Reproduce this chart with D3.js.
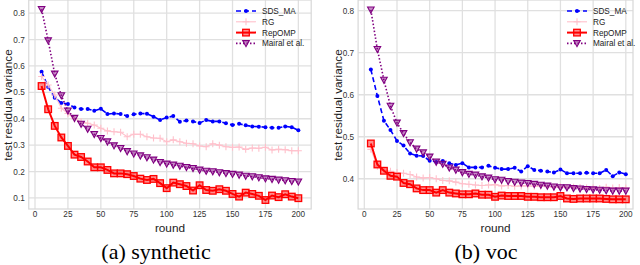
<!DOCTYPE html>
<html>
<head>
<meta charset="utf-8">
<script src="https://cdn.jsdelivr.net/npm/d3@7"></script>
<style>
  body { margin: 0; background: #fff; }
  svg { display: block; }
</style>
</head>
<body>
<script>
const rounds = [5, 10, 15, 20, 25, 30, 35, 40, 45, 50, 55, 60, 65, 70, 75, 80, 85, 90, 95, 100,
  105, 110, 115, 120, 125, 130, 135, 140, 145, 150, 155, 160, 165, 170, 175, 180, 185, 190, 195, 200]

const xTicks = [0, 25, 50, 75, 100, 125, 150, 175, 200]
const synthYTicks = [0.1, 0.2, 0.3, 0.4, 0.5, 0.6, 0.7, 0.8]
const vocYTicks = [0.4, 0.5, 0.6, 0.7, 0.8]
const seriesNames = ['SDS_MA', 'RG', 'RepOMP', 'Mairal et al.']

// synthetic
const synthSDS = [0.578, 0.52, 0.48, 0.46, 0.456, 0.443, 0.437, 0.437, 0.43, 0.438,
  0.418, 0.42, 0.418, 0.41, 0.417, 0.42, 0.419, 0.408, 0.395, 0.405,
  0.41, 0.389, 0.393, 0.39, 0.384, 0.395, 0.39, 0.39, 0.383, 0.376,
  0.381, 0.375, 0.371, 0.37, 0.368, 0.366, 0.366, 0.371, 0.368, 0.356]
const synthRG = [0.56, 0.528, 0.49, 0.44, 0.42, 0.40, 0.389, 0.383, 0.376, 0.364,
  0.354, 0.351, 0.349, 0.332, 0.341, 0.341, 0.332, 0.327, 0.326, 0.313,
  0.32, 0.313, 0.307, 0.305, 0.297, 0.294, 0.305, 0.30, 0.294, 0.292,
  0.293, 0.284, 0.289, 0.288, 0.292, 0.282, 0.284, 0.283, 0.279, 0.279]
const synthRep = [0.524, 0.436, 0.373, 0.329, 0.297, 0.264, 0.255, 0.238, 0.216, 0.216,
  0.206, 0.193, 0.193, 0.19, 0.183, 0.173, 0.168, 0.172, 0.156, 0.137,
  0.158, 0.152, 0.145, 0.128, 0.148, 0.13, 0.127, 0.133, 0.127, 0.115,
  0.105, 0.12, 0.115, 0.108, 0.092, 0.109, 0.103, 0.114, 0.105, 0.099]
const synthMairal = [0.815, 0.696, 0.57, 0.488, 0.43, 0.402, 0.38, 0.361, 0.341, 0.326,
  0.313, 0.298, 0.288, 0.276, 0.267, 0.26, 0.253, 0.244, 0.235, 0.229,
  0.225, 0.221, 0.216, 0.212, 0.206, 0.202, 0.2, 0.196, 0.193, 0.19,
  0.187, 0.183, 0.181, 0.177, 0.173, 0.171, 0.168, 0.166, 0.163, 0.161]

// voc
const vocSDS = [0.66, 0.597, 0.538, 0.516, 0.49, 0.479, 0.46, 0.455, 0.454, 0.443,
  0.44, 0.442, 0.437, 0.433, 0.437, 0.427, 0.427, 0.427, 0.431, 0.426,
  0.423, 0.423, 0.426, 0.417, 0.43, 0.421, 0.419, 0.417, 0.415, 0.422,
  0.413, 0.413, 0.413, 0.414, 0.413, 0.413, 0.421, 0.406, 0.415, 0.411]
const vocRG = [0.47, 0.43, 0.42, 0.418, 0.415, 0.413, 0.41, 0.404, 0.402, 0.403,
  0.40, 0.396, 0.395, 0.392, 0.388, 0.387, 0.385, 0.384, 0.385, 0.386,
  0.383, 0.384, 0.382, 0.383, 0.383, 0.382, 0.383, 0.381, 0.38, 0.381,
  0.379, 0.38, 0.379, 0.378, 0.378, 0.377, 0.38, 0.378, 0.379, 0.378]
const vocRep = [0.484, 0.434, 0.419, 0.407, 0.405, 0.39, 0.387, 0.377, 0.373, 0.373,
  0.367, 0.373, 0.367, 0.365, 0.363, 0.363, 0.365, 0.362, 0.362, 0.357,
  0.36, 0.359, 0.359, 0.359, 0.357, 0.357, 0.356, 0.356, 0.356, 0.359,
  0.353, 0.352, 0.353, 0.353, 0.353, 0.353, 0.352, 0.351, 0.351, 0.351]
const vocMairal = [0.802, 0.708, 0.635, 0.573, 0.533, 0.508, 0.486, 0.471, 0.462, 0.452,
  0.44, 0.435, 0.426, 0.421, 0.415, 0.411, 0.409, 0.405, 0.402, 0.398,
  0.397, 0.394, 0.392, 0.39, 0.389, 0.387, 0.385, 0.383, 0.381, 0.379,
  0.379, 0.377, 0.376, 0.375, 0.374, 0.373, 0.372, 0.371, 0.371, 0.371]

const W = 640, H = 265

const svg = d3.select('body').append('svg')
    .attr('width', W)
    .attr('height', H)

// one style per series, same order as seriesNames
const styles = [
  {color: 'blue', width: 1.6, dash: '5,3', marker: 'dot'},
  {color: 'pink', width: 1.1, dash: null, marker: 'plus'},
  {color: 'red', width: 2, dash: null, marker: 'square'},
  {color: 'purple', width: 1.6, dash: '1.5,2', marker: 'tri'}
]

function drawMarker(sel, st) {
  if (st.marker == 'dot') {
    sel.append('circle').attr('r', 2).attr('fill', st.color)
  } else if (st.marker == 'plus') {
    sel.append('path').attr('d', 'M-3.5,0H3.5M0,-3.5V3.5')
        .attr('stroke', st.color).attr('stroke-width', 1.1)
  } else if (st.marker == 'square') {
    sel.append('rect').attr('x', -3.3).attr('y', -3.3).attr('width', 6.6).attr('height', 6.6)
        .attr('fill', 'rgba(255,0,0,0.45)').attr('stroke', st.color).attr('stroke-width', 1.3)
  } else {
    sel.append('path').attr('d', 'M-3.3,-2.8L3.3,-2.8L0,3.3Z')
        .attr('fill', 'rgba(128,0,128,0.45)').attr('stroke', st.color).attr('stroke-width', 1.1)
  }
}

function panel(opt) {
  const x = d3.scaleLinear().domain(opt.xDomain).range([opt.left, opt.right])
  const y = d3.scaleLinear().domain(opt.yDomain).range([opt.bottom, opt.top])
  const g = svg.append('g')

  // grid
  g.selectAll('.gx').data(xTicks).enter().append('line')
      .attr('x1', d => x(d)).attr('x2', d => x(d))
      .attr('y1', opt.top).attr('y2', opt.bottom)
      .attr('stroke', '#e0e0e0').attr('stroke-width', 1.3)
  g.selectAll('.gy').data(opt.yTicks).enter().append('line')
      .attr('x1', opt.left).attr('x2', opt.right)
      .attr('y1', d => y(d)).attr('y2', d => y(d))
      .attr('stroke', '#e0e0e0').attr('stroke-width', 1.3)
  g.append('rect')
      .attr('x', opt.left).attr('y', opt.top)
      .attr('width', opt.right - opt.left).attr('height', opt.bottom - opt.top)
      .attr('fill', 'none').attr('stroke', '#d8d8d8').attr('stroke-width', 1.2)

  // tick labels
  g.selectAll('.tx').data(xTicks).enter().append('text')
      .attr('x', d => x(d)).attr('y', opt.bottom + 8)
      .attr('text-anchor', 'middle')
      .attr('font-family', 'Liberation Sans, Arial, sans-serif')
      .attr('font-size', 8.2).attr('fill', '#333')
      .text(d => d)
  g.selectAll('.ty').data(opt.yTicks).enter().append('text')
      .attr('x', opt.left - 4).attr('y', d => y(d) + 3)
      .attr('text-anchor', 'end')
      .attr('font-family', 'Liberation Sans, Arial, sans-serif')
      .attr('font-size', 8.2).attr('fill', '#333')
      .text(d => d.toFixed(1))

  // axis titles
  g.append('text')
      .attr('x', (opt.left + opt.right) / 2).attr('y', 232)
      .attr('text-anchor', 'middle')
      .attr('font-family', 'Liberation Sans, Arial, sans-serif')
      .attr('font-size', 11.8).attr('fill', '#222')
      .text('round')
  g.append('text')
      .attr('transform', 'translate(' + opt.yTitleX + ',105) rotate(-90)')
      .attr('text-anchor', 'middle')
      .attr('font-family', 'Liberation Sans, Arial, sans-serif')
      .attr('font-size', 11.8).attr('fill', '#222')
      .text('test residual variance')

  // series
  const line = d3.line().x(d => x(d[0])).y(d => y(d[1]))
  opt.series.forEach(function(vals, i) {
    const st = styles[i]
    const pts = rounds.map((r, j) => [r, vals[j]])
    g.append('path')
        .attr('d', line(pts))
        .attr('fill', 'none')
        .attr('stroke', st.color)
        .attr('stroke-width', st.width)
        .attr('stroke-dasharray', st.dash)
    g.selectAll('.m' + i).data(pts).enter().append('g')
        .attr('transform', d => 'translate(' + x(d[0]) + ',' + y(d[1]) + ')')
        .each(function() { drawMarker(d3.select(this), st) })
  })

  // legend
  seriesNames.forEach(function(name, i) {
    const st = styles[i]
    const ly = 11 + i * 10.8
    g.append('line')
        .attr('x1', opt.legX).attr('x2', opt.legX + 20)
        .attr('y1', ly).attr('y2', ly)
        .attr('stroke', st.color).attr('stroke-width', st.width)
        .attr('stroke-dasharray', st.dash)
    drawMarker(g.append('g').attr('transform', 'translate(' + (opt.legX + 10) + ',' + ly + ')'), st)
    g.append('text')
        .attr('x', opt.legX + 26).attr('y', ly + 3)
        .attr('font-family', 'Liberation Sans, Arial, sans-serif')
        .attr('font-size', 8.2).attr('fill', '#222')
        .text(name)
  })

  // caption
  svg.append('text')
      .attr('x', opt.capX).attr('y', 259)
      .attr('text-anchor', 'middle')
      .attr('font-family', 'Liberation Serif, Times New Roman, serif')
      .attr('font-size', 22).attr('fill', '#000')
      .text(opt.caption)
}

panel({
  left: 28.75, right: 311.2, top: 0, bottom: 209,
  xDomain: [-4.75, 209.75], yDomain: [0.058, 0.85],
  yTicks: synthYTicks, yTitleX: 12, legX: 236, capX: 156,
  series: [synthSDS, synthRG, synthRep, synthMairal],
  caption: '(a) synthetic'
})

panel({
  left: 358.1, right: 633, top: 0, bottom: 209,
  xDomain: [-4.75, 205.5], yDomain: [0.328, 0.8255],
  yTicks: vocYTicks, yTitleX: 342, legX: 567, capX: 486,
  series: [vocSDS, vocRG, vocRep, vocMairal],
  caption: '(b) voc'
})
</script>
</body>
</html>
